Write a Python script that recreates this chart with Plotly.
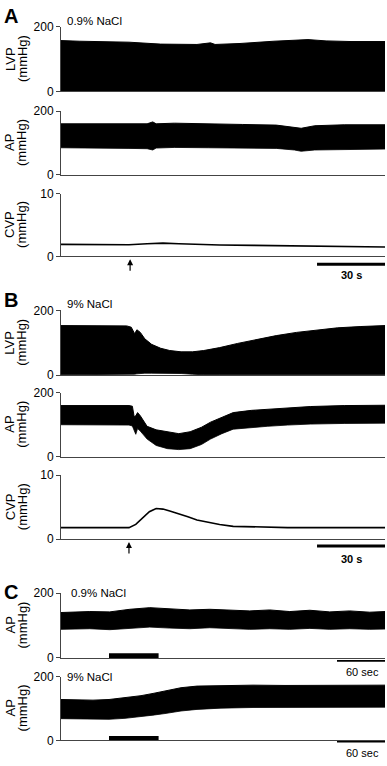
import plotly.graph_objects as go

W, H = 387, 766
FONT = "Arial, Liberation Sans, sans-serif"

# ---------------- Panel A : 0.9% NaCl (time in s) ----------------
a_lvp_t   = [0, 8, 30, 35, 44, 60, 66, 68, 79, 94, 105, 109, 117, 128, 143]
a_lvp_sys = [157, 155, 152, 150, 146, 145, 150, 145, 148, 155, 157, 160, 156, 154, 154]
a_lvp_dia = [1, 1, 1, 1, 1, 1, 1, 1, 1, 1, 1, 1, 1, 1, 1]

a_ap_t   = [0, 15, 30, 38, 40.5, 42, 50, 65, 80, 95, 103, 106, 112, 125, 143]
a_ap_sys = [160, 160, 159, 160, 166, 160, 162, 161, 158, 156, 150, 146, 154, 157, 157]
a_ap_dia = [85, 85, 83, 82, 78, 84, 86, 85, 84, 83, 78, 74, 78, 80, 81]

a_cvp_t = [0, 10, 20, 30, 38, 45, 52, 60, 70, 85, 100, 115, 130, 143]
a_cvp   = [1.9, 1.85, 1.8, 1.85, 2.0, 2.1, 2.0, 1.9, 1.8, 1.75, 1.7, 1.6, 1.55, 1.5]

# ---------------- Panel B : 9% NaCl ----------------
b_lvp_t   = [0, 10, 20, 29, 31, 32.5, 33.5, 35, 37, 40, 44, 48, 53, 58, 63, 70, 78, 86, 95, 104, 113, 122, 132, 143]
b_lvp_sys = [153, 152, 153, 152, 148, 128, 140, 132, 112, 95, 83, 76, 72, 72, 76, 85, 98, 110, 122, 132, 140, 146, 150, 153]
b_lvp_dia = [1, 1, 1, 1, 1, 3, 4, 5, 6, 6, 6, 6, 5, 3, 1, 1, 1, 1, 1, 1, 1, 1, 1, 1]

b_ap_t   = [0, 10, 20, 30, 31.5, 32.3, 33.0, 33.8, 35, 38, 42, 47, 52, 57, 62, 66, 71, 76, 84, 91, 100, 110, 125, 143]
b_ap_sys = [160, 160, 161, 160, 158, 125, 128, 138, 128, 95, 84, 77, 72, 78, 92, 108, 124, 138, 145, 148, 153, 157, 160, 161]
b_ap_dia = [100, 100, 100, 99, 96, 80, 70, 88, 80, 55, 35, 25, 22, 25, 38, 55, 72, 86, 92, 95, 99, 102, 104, 105]

b_cvp_t = [0, 10, 20, 30, 33, 36, 39, 42, 45, 48, 52, 56, 60, 65, 70, 76, 85, 100, 115, 130, 143]
b_cvp   = [1.8, 1.8, 1.7, 1.8, 2.3, 3.3, 4.3, 4.8, 4.7, 4.4, 4.0, 3.5, 3.0, 2.6, 2.3, 2.0, 1.9, 1.8, 1.8, 1.8, 1.8]

# ---------------- Panel C : AP, long recordings ----------------
c1_t   = [0, 36, 61, 86, 111, 136, 161, 186, 211, 236, 261, 286, 311, 336, 361, 386, 405]
c1_sys = [140, 143, 142, 150, 155, 152, 148, 150, 147, 145, 148, 143, 147, 142, 145, 141, 143]
c1_dia = [88, 90, 87, 92, 95, 92, 90, 93, 90, 88, 90, 88, 91, 88, 90, 88, 89]

c2_t   = [0, 20, 40, 60, 80, 100, 115, 130, 150, 170, 200, 240, 280, 320, 360, 405]
c2_sys = [128, 127, 126, 128, 133, 140, 147, 155, 165, 170, 172, 173, 172, 173, 172, 173]
c2_dia = [68, 67, 66, 66, 69, 74, 79, 84, 92, 97, 101, 103, 103, 104, 103, 104]

# events / scale bars (time units)
ab_injection = [30.5, 30.0]
ab_scalebar = [113, 143]
c_infusion = [60, 122]
c_scalebar = [345, 405]

# ---------------- layout helpers ----------------
XL, XR = 61 / W, 385 / W
def dom(top, bot):
    return [1 - bot / H, 1 - top / H]
def py(px):
    return 1 - px / H

panels = [
    (20, 86, [0, 200], [0, 200], "LVP", [0, 143]),
    (106, 171, [0, 200], [0, 200], "AP", [0, 143]),
    (190, 254, [0, 10], [0, 10], "CVP", [0, 143]),
    (309, 375, [0, 200], [0, 200], "LVP", [0, 143]),
    (393, 458, [0, 200], [0, 200], "AP", [0, 143]),
    (477, 542, [0, 10], [0, 10], "CVP", [0, 143]),
    (597, 663, [0, 200], [0, 200], "AP", [0, 405]),
    (682, 747, [0, 200], [0, 200], "AP", [0, 405]),
]

fig = go.Figure()

def band(i, t, lo, hi):
    xa, ya = f"x{i}", f"y{i}"
    fig.add_trace(go.Scatter(x=t, y=lo, mode="lines", line=dict(color="black", width=0.8),
                             xaxis=xa, yaxis=ya, showlegend=False, hoverinfo="skip"))
    fig.add_trace(go.Scatter(x=t, y=hi, mode="lines", line=dict(color="black", width=1),
                             fill="tonexty", fillcolor="black",
                             xaxis=xa, yaxis=ya, showlegend=False, hoverinfo="skip"))

def line(i, t, v):
    fig.add_trace(go.Scatter(x=t, y=v, mode="lines", line=dict(color="black", width=1.6),
                             xaxis=f"x{i}", yaxis=f"y{i}", showlegend=False, hoverinfo="skip"))

band(1, a_lvp_t, a_lvp_dia, a_lvp_sys)
band(2, a_ap_t, a_ap_dia, a_ap_sys)
line(3, a_cvp_t, a_cvp)
band(4, b_lvp_t, b_lvp_dia, b_lvp_sys)
band(5, b_ap_t, b_ap_dia, b_ap_sys)
line(6, b_cvp_t, b_cvp)
band(7, c1_t, c1_dia, c1_sys)
band(8, c2_t, c2_dia, c2_sys)

lay = dict(width=W, height=H, margin=dict(l=0, r=0, t=0, b=0),
           paper_bgcolor="white", plot_bgcolor="white",
           font=dict(family=FONT, color="black", size=12))
annotations = []
shapes = []
for k, (top, bot, yr, tv, title, xr) in enumerate(panels, start=1):
    lay[f"xaxis{k}"] = dict(domain=[XL, XR], range=xr, anchor=f"y{k}", showline=True,
                            linecolor="#444", linewidth=1, showticklabels=False, ticks="",
                            showgrid=False, zeroline=False, fixedrange=True)
    lay[f"yaxis{k}"] = dict(domain=dom(top, bot), range=yr, anchor=f"x{k}", showline=True,
                            linecolor="#444", linewidth=1, tickvals=tv, ticks="outside",
                            ticklen=4, tickcolor="#444", showgrid=False, zeroline=False,
                            tickfont=dict(size=12, family=FONT), fixedrange=True)
    yc = py((top + bot) / 2)
    annotations.append(dict(text=title, x=10 / W, y=yc, xref="paper", yref="paper",
                            textangle=-90, showarrow=False, xanchor="center", yanchor="middle",
                            font=dict(size=13, family=FONT)))
    annotations.append(dict(text="(mmHg)", x=22 / W, y=yc, xref="paper", yref="paper",
                            textangle=-90, showarrow=False, xanchor="center", yanchor="middle",
                            font=dict(size=13, family=FONT)))

for letter, ypx in [("A", 9), ("B", 298), ("C", 596)]:
    annotations.append(dict(text=f"<b>{letter}</b>", x=11 / W, y=py(ypx), xref="paper", yref="paper",
                            showarrow=False, xanchor="center", yanchor="middle",
                            font=dict(size=20, family=FONT)))

for txt, xpx, ypx in [("0.9% NaCl", 65, 14), ("9% NaCl", 65, 303),
                      ("0.9% NaCl", 69, 597), ("9% NaCl", 65, 682)]:
    annotations.append(dict(text=txt, x=xpx / W, y=py(ypx), xref="paper", yref="paper",
                            showarrow=False, xanchor="left", yanchor="middle",
                            font=dict(size=11.5, family=FONT)))

for k, tinj, head in [(3, ab_injection[0], 257), (6, ab_injection[1], 545)]:
    annotations.append(dict(text="", x=tinj, y=py(head), xref=f"x{k}", yref="paper",
                            showarrow=True, ax=0, ay=13, arrowhead=2, arrowsize=1,
                            arrowwidth=1.2, arrowcolor="black", standoff=0))

for k, bar_px, txt_px in [(3, 262, 273), (6, 549, 562)]:
    shapes.append(dict(type="line", xref=f"x{k}", yref="paper", x0=ab_scalebar[0], x1=ab_scalebar[1],
                       y0=py(bar_px), y1=py(bar_px), line=dict(color="black", width=3)))
    annotations.append(dict(text="<b>30 s</b>", x=(ab_scalebar[0] + ab_scalebar[1]) / 2, y=py(txt_px),
                            xref=f"x{k}", yref="paper", showarrow=False, xanchor="center",
                            yanchor="middle", font=dict(size=11, family=FONT)))

for k, bar_px, txt_px in [(7, 666, 677), (8, 748.5, 760)]:
    shapes.append(dict(type="line", xref=f"x{k}", yref="paper", x0=c_scalebar[0], x1=c_scalebar[1],
                       y0=py(bar_px), y1=py(bar_px), line=dict(color="black", width=1.6)))
    annotations.append(dict(text="60 sec", x=362 / W, y=py(txt_px),
                            xref="paper", yref="paper", showarrow=False, xanchor="center",
                            yanchor="middle", font=dict(size=11, family=FONT)))
    shapes.append(dict(type="rect", xref=f"x{k}", yref=f"y{k}", x0=c_infusion[0], x1=c_infusion[1],
                       y0=0, y1=14, line=dict(width=0), fillcolor="black"))

lay["annotations"] = annotations
lay["shapes"] = shapes
fig.update_layout(**lay)
fig.write_html("out.html", config={"displayModeBar": False, "staticPlot": True},
               post_script="document.body.style.margin='0';document.body.style.overflow='hidden';")
